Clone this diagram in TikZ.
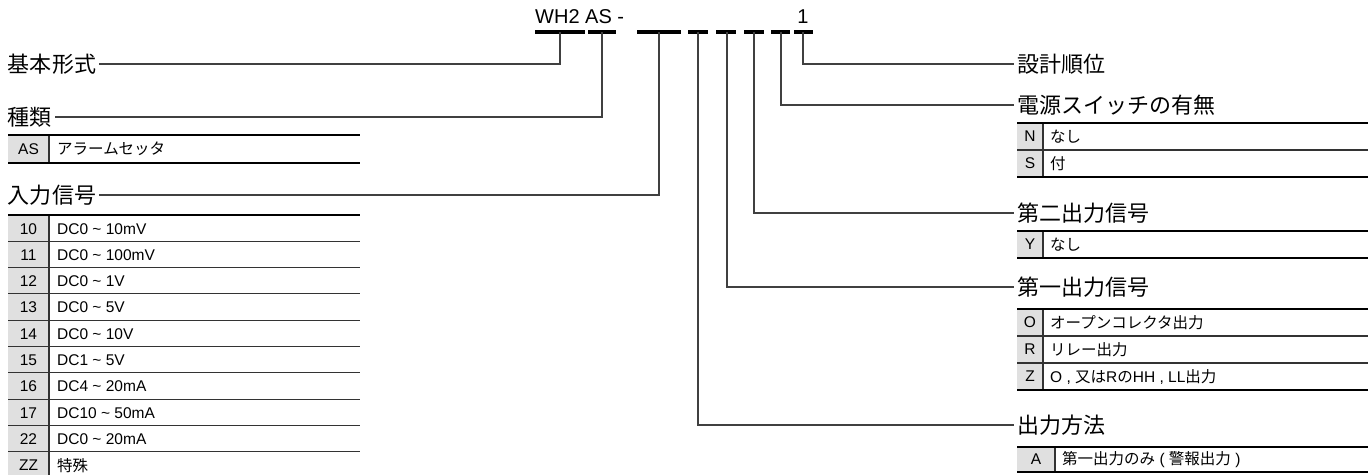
\documentclass[tikz,border=0pt]{standalone}
\usepackage{fontspec}
\setmainfont{Liberation Sans}
\newfontfamily\jp{Noto Sans CJK JP}
\begin{document}
\begin{tikzpicture}[x=1pt,y=-1pt,
  lbl/.style={font=\jp\fontsize{22}{22}\selectfont, inner sep=0pt, outer xsep=3pt},
  celltxt/.style={font=\fontsize{15.5}{15.5}\selectfont, inner sep=0pt},
  conn/.style={draw=black!75, line width=1.2pt},
  bar/.style={line width=4pt},
  rule/.style={line width=2.6pt},
  rowsep/.style={draw=black!80, line width=1.1pt},
  divider/.style={draw=black!80, line width=1.3pt},
  keyfill/.style={fill=black!12}]
\useasboundingbox (0,0) rectangle (1372,474);

% ---- code line ----
\node[anchor=base west, inner sep=0pt, font=\fontsize{20}{20}\selectfont] (code) at (535,23) {WH2 AS -};
\node[anchor=base, inner sep=0pt, font=\fontsize{20}{20}\selectfont] (one) at (803,23) {1};
\foreach \a/\b in {535/585,588/616,637/681,688/708,716/736,744/764,771/790,794/813}
  \draw[bar] (\a,31.5) -- (\b,31.5);
\coordinate (p1) at (560,31.5);
\coordinate (p2) at (602,31.5);
\coordinate (p3) at (659,31.5);
\coordinate (p4) at (698,31.5);
\coordinate (p5) at (727,31.5);
\coordinate (p6) at (754,31.5);
\coordinate (p7) at (781,31.5);
\coordinate (p8) at (803,31.5);

% ---- left labels ----
\node[lbl,anchor=west] (kihon) at (5,64) {基本形式};
\node[lbl,anchor=west] (shurui) at (5,117) {種類};
\node[lbl,anchor=west] (nyuryoku) at (5,195) {入力信号};
\draw[conn] (kihon.east) -| (p1);
\draw[conn] (shurui.east) -| (p2);
\draw[conn] (nyuryoku.east) -| (p3);

% ---- right labels ----
\node[lbl,anchor=west] (sekkei) at (1014,64) {設計順位};
\node[lbl,anchor=west] (dengen) at (1014,105) {電源スイッチの有無};
\node[lbl,anchor=west] (daini) at (1014,213) {第二出力信号};
\node[lbl,anchor=west] (daiichi) at (1014,287) {第一出力信号};
\node[lbl,anchor=west] (hoho) at (1014,425) {出力方法};
\draw[conn] (p8) |- (sekkei.west);
\draw[conn] (p7) |- (dengen.west);
\draw[conn] (p6) |- (daini.west);
\draw[conn] (p5) |- (daiichi.west);
\draw[conn] (p4) |- (hoho.west);

% ---- table: 種類 ----
\fill[keyfill] (8,135) rectangle (49,163);
\draw[divider] (49,135) -- (49,163);
\draw[rule] (8,135) -- (360,135);
\draw[rule] (8,163) -- (360,163);
\node[celltxt] (kAS) at (28.5,149) {AS};
\node[celltxt,anchor=west] (vAS) at (57,149) {\jp アラームセッタ};

% ---- table: 入力信号 ----
\fill[keyfill] (8,215) rectangle (49,480);
\draw[divider] (49,215) -- (49,480);
\foreach \n in {1,...,9}
  \draw[rowsep] (8,215+26.3*\n) -- (360,215+26.3*\n);
\draw[rule] (8,215) -- (360,215);
\foreach \k/\v [count=\n] in {10/DC0 \textasciitilde\ 10mV, 11/DC0 \textasciitilde\ 100mV,
  12/DC0 \textasciitilde\ 1V, 13/DC0 \textasciitilde\ 5V, 14/DC0 \textasciitilde\ 10V,
  15/DC1 \textasciitilde\ 5V, 16/DC4 \textasciitilde\ 20mA, 17/DC10 \textasciitilde\ 50mA,
  22/DC0 \textasciitilde\ 20mA, ZZ/{\jp 特殊}} {
  \pgfmathsetmacro\yc{215+26.3*(\n-1)+13.7}
  \node[celltxt] (ink\n) at (28.5,\yc) {\k};
  \node[celltxt,anchor=west] (inv\n) at (57,\yc) {\v};
}

% ---- table: 電源スイッチの有無 ----
\fill[keyfill] (1017,123) rectangle (1043,177);
\draw[divider] (1043,123) -- (1043,177);
\draw[rowsep] (1017,150) -- (1368,150);
\draw[rule] (1017,123) -- (1368,123);
\draw[rule] (1017,177) -- (1368,177);
\node[celltxt] (kN) at (1030,136.5) {N};
\node[celltxt,anchor=west] (vN) at (1050,136.5) {\jp なし};
\node[celltxt] (kS) at (1030,163.5) {S};
\node[celltxt,anchor=west] (vS) at (1050,163.5) {\jp 付};

% ---- table: 第二出力信号 ----
\fill[keyfill] (1017,231) rectangle (1043,258);
\draw[divider] (1043,231) -- (1043,258);
\draw[rule] (1017,231) -- (1368,231);
\draw[rule] (1017,258) -- (1368,258);
\node[celltxt] (kY) at (1030,244.5) {Y};
\node[celltxt,anchor=west] (vY) at (1050,244.5) {\jp なし};

% ---- table: 第一出力信号 ----
\fill[keyfill] (1017,309) rectangle (1043,390);
\draw[divider] (1043,309) -- (1043,390);
\draw[rowsep] (1017,336) -- (1368,336);
\draw[rowsep] (1017,363) -- (1368,363);
\draw[rule] (1017,309) -- (1368,309);
\draw[rule] (1017,390) -- (1368,390);
\node[celltxt] (kO) at (1030,322.5) {O};
\node[celltxt,anchor=west] (vO) at (1050,322.5) {\jp オープンコレクタ出力};
\node[celltxt] (kR) at (1030,349.5) {R};
\node[celltxt,anchor=west] (vR) at (1050,349.5) {\jp リレー出力};
\node[celltxt] (kZ) at (1030,376.5) {Z};
\node[celltxt,anchor=west] (vZ) at (1050,376.5) {O , {\jp 又は}R{\jp の}HH , LL{\jp 出力}};

% ---- table: 出力方法 ----
\fill[keyfill] (1017,447) rectangle (1055,472);
\draw[divider] (1055,447) -- (1055,472);
\draw[rule] (1017,447) -- (1368,447);
\draw[rule] (1017,472) -- (1368,472);
\node[celltxt] (kA) at (1036,459.5) {A};
\node[celltxt,anchor=west] (vA) at (1062,459.5) {{\jp 第一出力のみ} ( {\jp 警報出力} )};
\end{tikzpicture}
\end{document}
